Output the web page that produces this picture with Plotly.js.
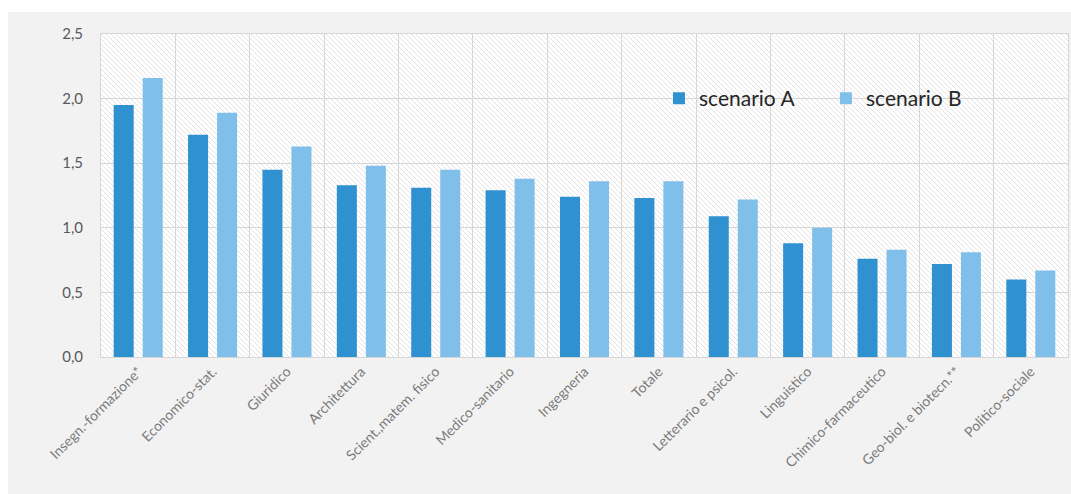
<!DOCTYPE html>
<html>
<head>
<meta charset="utf-8">
<script src="https://cdn.plot.ly/plotly-3.0.1.min.js"></script>
<style>
  html, body { margin: 0; padding: 0; background: #ffffff; }
  #wrap { position: absolute; left: 8px; top: 12px; width: 1063px; height: 482px; background: #f2f2f2; }
  #hatch { position: absolute; background-color: #ffffff;
    background-image: url("data:image/svg+xml;utf8,<svg xmlns='http://www.w3.org/2000/svg' width='5' height='5'><path d='M0,0 L5,5 M-1,4 L1,6 M4,-1 L6,1' stroke='%23e2e2e2' stroke-width='1'/></svg>");
    background-size: 5px 5px; }
  #chart { position: absolute; left: 0; top: 0; width: 1063px; height: 482px; }
</style>
</head>
<body>
<div id="wrap">
  <div id="hatch"></div>
  <div id="chart"></div>
</div>
<script>
const categories = ["Insegn.-formazione*", "Economico-stat.", "Giuridico", "Architettura",
  "Scient.,matem. fisico", "Medico-sanitario", "Ingegneria", "Totale",
  "Letterario e psicol.", "Linguistico", "Chimico-farmaceutico", "Geo-biol. e biotecn.**", "Politico-sociale"];
const scenarioA = [1.95, 1.72, 1.45, 1.33, 1.31, 1.29, 1.24, 1.23, 1.09, 0.88, 0.76, 0.72, 0.60];
const scenarioB = [2.16, 1.89, 1.63, 1.48, 1.45, 1.38, 1.36, 1.36, 1.22, 1.00, 0.83, 0.81, 0.67];
const seriesNames = ["scenario A", "scenario B"];
const yTicks = [0, 0.5, 1.0, 1.5, 2.0, 2.5];

const traces = [
  { type: "bar", name: seriesNames[0], x: categories, y: scenarioA, marker: { color: "#2f91cf" } },
  { type: "bar", name: seriesNames[1], x: categories, y: scenarioB, marker: { color: "#80bfe9" } }
];

const layout = {
  width: 1063, height: 482,
  margin: { l: 93, r: 3, t: 22, b: 137, autoexpand: false },
  paper_bgcolor: "rgba(0,0,0,0)",
  plot_bgcolor: "rgba(0,0,0,0)",
  separators: ",.",
  barmode: "group",
  bargap: 0.22,
  bargroupgap: 0.31,
  font: { family: "Lato, 'Open Sans', sans-serif", color: "#595959" },
  showlegend: true,
  legend: { orientation: "h", x: 0.577, y: 0.80, xanchor: "left", yanchor: "middle",
    bgcolor: "rgba(0,0,0,0)", font: { size: 21, color: "#262626" }, itemwidth: 30,
    entrywidth: 122, entrywidthmode: "pixels", traceorder: "normal" },
  xaxis: {
    type: "category", tickson: "boundaries", showgrid: true, gridcolor: "#d6d6d6", gridwidth: 1,
    tickangle: -45, tickfont: { size: 14, color: "#7a7a7a" }, ticks: "", automargin: false,
    showline: true, mirror: true, linecolor: "#d6d6d6", linewidth: 1, zeroline: false,
    fixedrange: true
  },
  yaxis: {
    range: [0, 2.5], tickvals: yTicks, tickformat: ".1f", showgrid: true, gridcolor: "#d6d6d6",
    gridwidth: 1, zeroline: false, tickfont: { size: 15, color: "#595959" }, ticks: "", automargin: false,
    ticklabelstandoff: 14, showline: true, mirror: true, linecolor: "#d6d6d6", fixedrange: true
  }
};

Plotly.newPlot("chart", traces, layout, { displayModeBar: false, staticPlot: true }).then(function (gd) {
  const s = gd._fullLayout._size;
  const h = document.getElementById("hatch");
  h.style.left = s.l + "px";
  h.style.top = s.t + "px";
  h.style.width = s.w + "px";
  h.style.height = s.h + "px";
});
</script>
</body>
</html>
